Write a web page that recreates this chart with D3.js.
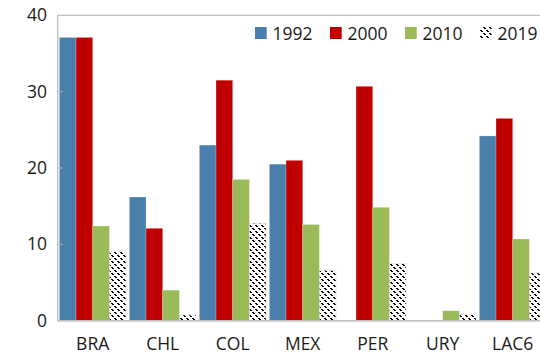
<!DOCTYPE html>
<html><head><meta charset="utf-8">
<script src="https://cdn.jsdelivr.net/npm/d3@7"></script>
<style>body{margin:0;background:#fff}svg{display:block}text{font-family:"Open Sans","Noto Sans",sans-serif;fill:#1a1a1a}</style>
</head><body><svg id="c" width="540" height="358"></svg>
<script>
const categories = ["BRA","CHL","COL","MEX","PER","URY","LAC6"];
const seriesNames = ["1992","2000","2010","2019"];
const v1992 = [37.1, 16.2, 23.0, 20.5, 0, 0, 24.2];
const v2000 = [37.1, 12.1, 31.5, 21.0, 30.7, 0, 26.5];
const v2010 = [12.4, 4.0, 18.5, 12.6, 14.85, 1.3, 10.7];
const v2019 = [9.1, 0.75, 12.75, 6.6, 7.5, 0.85, 6.25];
const yTicks = [0, 10, 20, 30, 40];
const colors = ["#4A7EAB", "#C00000", "#9BBB59", "url(#hatch)"];

(function(){
const values = [v1992, v2000, v2010, v2019];
const svg = d3.select("#c");
const pLeft = 57.7, pTop = 15.3, pBottom = 320.7, step = 70;
const x = d3.scaleBand().domain(categories).range([pLeft, pLeft + step*categories.length])
  .paddingInner(0.0476).paddingOuter(0.0238);
const xs = d3.scaleBand().domain(seriesNames).range([0, x.bandwidth()]);
const y = d3.scaleLinear().domain([0, 40]).range([pBottom, pTop]);

const defs = svg.append("defs");
const pat = defs.append("pattern").attr("id","hatch").attr("patternUnits","userSpaceOnUse")
  .attr("width",6).attr("height",6);
pat.append("rect").attr("width",6).attr("height",6).attr("fill","#fff");
for (let i = 0; i < 6; i++) {
  if (i % 3 === 2) continue;
  pat.append("rect").attr("x", i).attr("y", i).attr("width",2).attr("height",1).attr("fill","#000");
  if (i === 5) pat.append("rect").attr("x", 0).attr("y", i).attr("width",1).attr("height",1).attr("fill","#000");
}

svg.append("rect").attr("x", pLeft).attr("y", pTop).attr("width", step*categories.length).attr("height", pBottom-pTop)
  .attr("fill","none").attr("stroke","#c0c0c0").attr("stroke-width",1.3);

categories.forEach((c,i)=>{
  seriesNames.forEach((s,j)=>{
    const val = values[j][i];
    if (!val) return;
    svg.append("rect").attr("x", x(c)+xs(s)).attr("y", y(val)).attr("width", xs.bandwidth())
      .attr("height", y(0)-y(val)).attr("fill", colors[j])
      .attr("stroke", j===3 ? "#ddd" : "rgba(255,255,255,0.35)").attr("stroke-width",0.6);
  });
});

const ya = svg.append("g");
yTicks.forEach(t=>{
  if (t>0 && t<40) ya.append("line").attr("x1",pLeft-1).attr("x2",pLeft+5).attr("y1",y(t)).attr("y2",y(t)).attr("stroke","#bbb");
  ya.append("text").attr("x",47).attr("y",y(t)).attr("dy","0.35em").attr("text-anchor","end").attr("font-size",17.5).text(t);
});
categories.forEach(c=>{
  svg.append("text").attr("x", x(c)+x.bandwidth()/2).attr("y", 350).attr("text-anchor","middle").attr("font-size",17.5).text(c);
});
svg.append("line").attr("x1",pLeft).attr("x2",540).attr("y1",pBottom).attr("y2",pBottom).attr("stroke","#c0c0c0").attr("stroke-width",1.5);

const legX = [255, 330, 405, 480];
seriesNames.forEach((s,j)=>{
  const g = svg.append("g");
  g.append("rect").attr("x",legX[j]).attr("y",27).attr("width",11.7).attr("height",12).attr("fill",colors[j]);
  g.append("text").attr("x",legX[j]+17.5).attr("y",33.5).attr("dy","0.35em").attr("font-size",17.5).text(s);
});
})();
</script></body></html>
